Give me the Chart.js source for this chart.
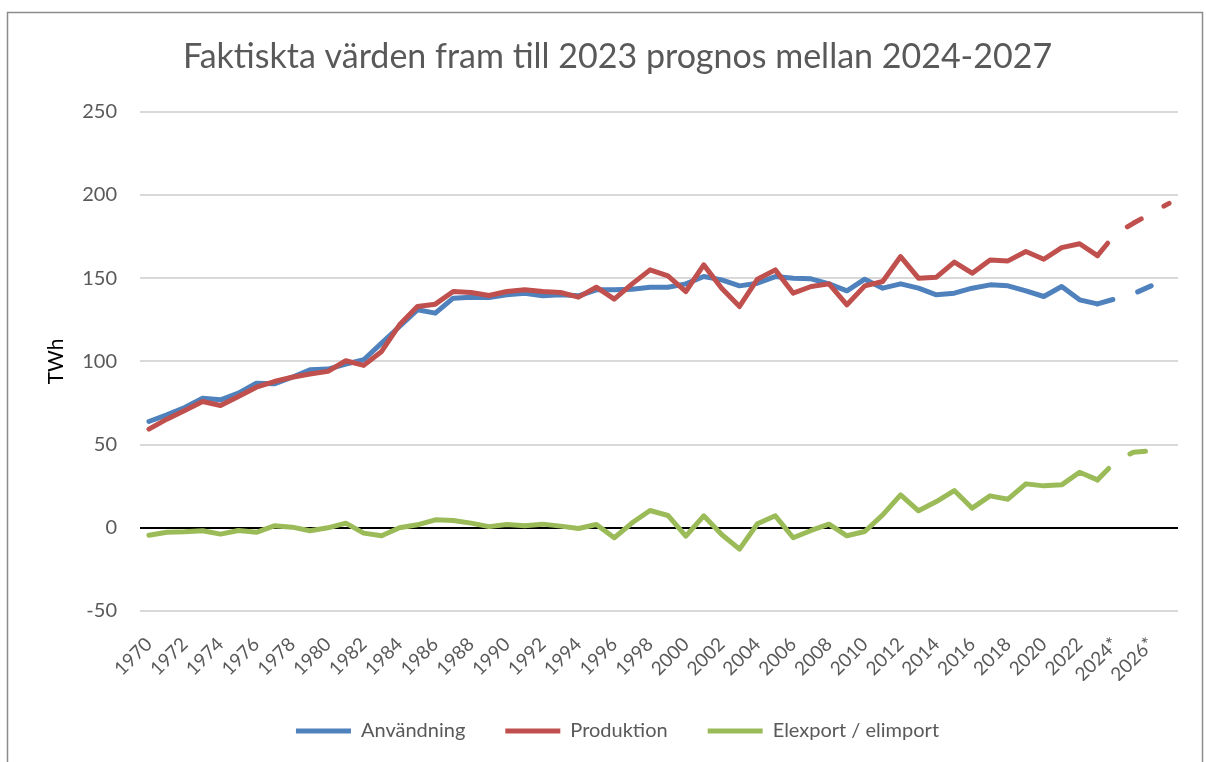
<!DOCTYPE html>
<html lang="sv">
<head>
<meta charset="utf-8">
<title>Faktiska värden och prognos</title>
<script src="https://cdn.jsdelivr.net/npm/chart.js@4.4.1/dist/chart.umd.min.js"></script>
<style>
  html, body { margin: 0; padding: 0; background: #ffffff; }
  #wrap { width: 1206px; height: 762px; }
</style>
</head>
<body>
<div id="wrap"><canvas id="chart" width="1206" height="762"></canvas></div>
<script>
// Årtal 1970-2023, prognos 2024*-2027*
const ar = [];
for (let y = 1970; y <= 2023; y++) ar.push(String(y));
ar.push('2024*', '2025*', '2026*', '2027*');

// TWh
const anvandning = [
    63.9, 67.9, 72.3, 77.9, 76.9, 80.9, 86.9, 86.5, 90.5, 95,
    95.4, 98.4, 101, 111, 121, 131, 129, 138, 138.6, 138.4,
    140, 141, 139.4, 140, 139.4, 143, 143, 143.4, 144.6, 144.6,
    146.6, 151, 149, 145.4, 147, 151, 150, 149.6, 146.6, 142.4,
    149.4, 144, 146.6, 144, 140, 141, 144, 146, 145.4, 142.4,
    139, 145, 137, 134.6, 137.6, 140.6, 145.4, null
];
const produktion = [
    59.3, 65.3, 70.5, 75.9, 73.5, 78.9, 84.5, 87.9, 90.5, 92.4,
    94, 100.4, 97.6, 106, 122, 133, 134.4, 142, 141.4, 139.6,
    142, 143, 142, 141.4, 138.6, 144.6, 137.4, 146.6, 155, 151.4,
    142, 158, 144, 133, 149.4, 155, 141, 145, 146.6, 134,
    145.4, 148, 163, 150, 150.6, 159.7, 153, 161, 160.4, 166,
    161.4, 168.4, 170.7, 163.6, 176.6, 183, 189, 195
];
const elexport = [
    -4.5, -2.7, -2.4, -1.8, -3.8, -1.6, -2.7, 1.2, 0.4, -1.8,
    0, 2.8, -3.2, -4.8, 0, 1.8, 4.8, 4.4, 2.8, 0.7,
    2, 1.2, 2.2, 1, -0.4, 2, -6, 3, 10.4, 7.4,
    -5, 7.2, -4, -12.8, 2.4, 7.2, -6, -1.6, 2.2, -4.8,
    -2.2, 7.8, 19.8, 10.2, 15.8, 22.4, 11.8, 19.2, 17.2, 26.4,
    25.2, 25.8, 33.4, 28.8, 39.7, 45.4, 46.3, null
];

// index för 2023, prognosen ritas streckad därifrån
const prognosStart = ar.indexOf('2023');

const FONT = 'Lato, "Open Sans", sans-serif';
const GRA = '#595959';

// ram runt diagrammet
const ramPlugin = {
    id: 'ram',
    beforeDraw(chart) {
        const ctx = chart.ctx;
        ctx.save();
        ctx.fillStyle = '#ffffff';
        ctx.fillRect(0, 0, chart.width, chart.height);
        ctx.strokeStyle = '#8c8c8c';
        ctx.lineWidth = 1.5;
        ctx.strokeRect(7.5, 12.5, 1195, 770);
        ctx.restore();
    }
};

function linje(label, data, color, order) {
    return {
        label: label,
        data: data,
        borderColor: color,
        backgroundColor: color,
        borderWidth: 5,
        borderCapStyle: 'round',
        borderJoinStyle: 'round',
        pointRadius: 0,
        pointHoverRadius: 0,
        tension: 0,
        order: order,
        segment: {
            borderDash: c => c.p0DataIndex >= prognosStart ? [16, 26] : undefined
        }
    };
}

new Chart(document.getElementById('chart'), {
    type: 'line',
    data: {
        labels: ar,
        datasets: [
            linje('Användning', anvandning, '#4f81bd', 3),
            linje('Produktion', produktion, '#c0504d', 2),
            linje('Elexport / elimport', elexport, '#9bbb59', 1)
        ]
    },
    options: {
        responsive: false,
        animation: false,
        devicePixelRatio: 1,
        layout: { padding: { left: 29, right: 0, top: 12, bottom: 11 } },
        plugins: {
            title: {
                display: true,
                text: 'Faktiskta värden fram till 2023 prognos mellan 2024-2027',
                color: GRA,
                font: { family: FONT, size: 34, weight: 'normal' },
                padding: { top: 25, bottom: 34 }
            },
            legend: {
                position: 'bottom',
                labels: {
                    usePointStyle: true,
                    pointStyle: 'line',
                    pointStyleWidth: 55,
                    color: GRA,
                    font: { family: FONT, size: 20 },
                    padding: 40,
                    sort: (a, b) => a.datasetIndex - b.datasetIndex
                }
            },
            tooltip: { enabled: false }
        },
        scales: {
            x: {
                offset: true,
                grid: { display: false },
                border: { display: false },
                ticks: {
                    autoSkip: false,
                    minRotation: 45,
                    maxRotation: 45,
                    padding: 14,
                    color: GRA,
                    font: { family: FONT, size: 19 },
                    callback: function(val, i) {
                        return i % 2 === 0 ? this.getLabelForValue(val) : '';
                    }
                },
                afterFit: s => { s.height = 70; }
            },
            y: {
                min: -50,
                max: 250,
                border: { display: false },
                grid: {
                    drawTicks: false,
                    color: c => c.tick.value === 0 ? '#000000' : '#d9d9d9',
                    lineWidth: 2
                },
                ticks: {
                    stepSize: 50,
                    padding: 23,
                    color: GRA,
                    font: { family: FONT, size: 20 }
                },
                title: {
                    display: true,
                    text: 'TWh',
                    color: '#000000',
                    font: { family: FONT, size: 21 },
                    padding: { top: 15, bottom: 0 }
                },
                afterFit: s => { s.width = 111; }
            },
            hoger: {
                position: 'right',
                display: true,
                grid: { display: false },
                border: { display: false },
                ticks: { display: false },
                afterFit: s => { s.width = 28; }
            }
        }
    },
    plugins: [ramPlugin]
});
</script>
</body>
</html>
